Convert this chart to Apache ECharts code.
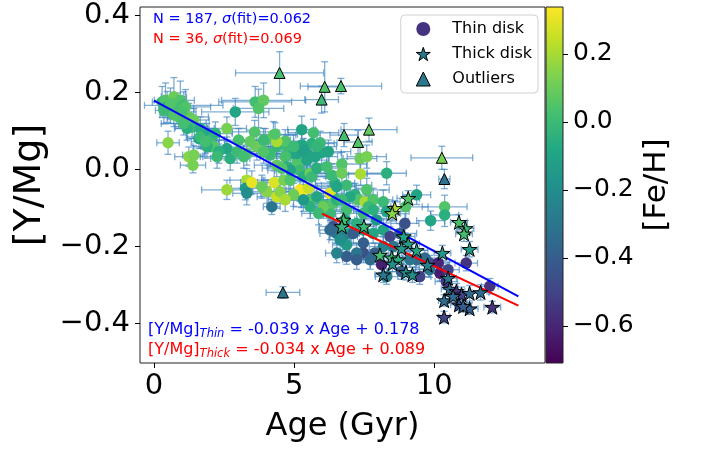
<!DOCTYPE html>
<html><head><meta charset="utf-8">
<script src="https://cdn.jsdelivr.net/npm/echarts@6/dist/echarts.min.js"></script>
<style>html,body{margin:0;padding:0;background:#fff}#c{width:703px;height:450px}</style>
</head><body><div id="c"></div><script>
const xTicks=[0,5,10];
const yTicks=[-0.4,-0.2,0,0.2,0.4];
const cbTicks=[-0.6,-0.4,-0.2,0,0.2];
const xRange=[-0.5,13.95];
const yRange=[-0.502,0.421];
const fehRange=[-0.709,0.338];
const thinFit={slope:-0.039,intercept:0.178,x:[0,13]};
const thickFit={slope:-0.034,intercept:0.089,x:[6,13]};
// rows: [age, Y/Mg, Fe/H, ageErr, Y/MgErr]
const thinDisk=[
[0.29,0.175,0.00,0.35,0.040],[0.41,0.179,0.05,0.40,0.045],[0.71,0.188,0.10,0.45,0.050],[0.94,0.179,0.05,0.50,0.050],
[1.06,0.166,0.00,1.40,0.035],[0.47,0.162,-0.05,0.30,0.040],[0.59,0.149,0.00,0.35,0.030],[0.82,0.158,0.02,0.60,0.040],
[0.88,0.136,0.05,0.40,0.030],[1.12,0.162,0.05,0.90,0.045],[0.35,0.153,0.00,0.30,0.035],[0.71,0.141,0.05,0.50,0.030],
[1.24,0.136,0.08,0.70,0.035],[1.42,0.128,0.10,0.55,0.030],[1.36,0.110,0.00,0.60,0.030],[1.18,0.106,-0.05,0.45,0.030],
[1.06,0.119,0.02,0.80,0.030],[1.65,0.106,-0.05,0.50,0.030],[1.89,0.089,-0.08,0.45,0.030],[1.60,0.080,-0.10,0.40,0.025],
[2.01,0.076,0.00,0.50,0.030],[2.13,0.059,0.05,0.45,0.025],[2.60,0.106,0.12,0.70,0.030],[2.90,0.149,-0.10,1.20,0.035],
[3.61,0.175,0.02,1.30,0.040],[3.91,0.179,0.08,1.50,0.045],[3.73,0.158,0.05,0.90,0.050],[3.59,0.097,0.05,0.80,0.030],
[0.50,0.069,0.15,0.40,0.030],[1.24,0.033,0.15,0.50,0.025],[1.42,0.037,0.12,0.40,0.025],[1.39,0.011,0.12,0.45,0.020],
[2.60,0.054,-0.10,0.60,0.030],[2.72,0.028,-0.05,0.70,0.030],[2.96,0.046,0.00,0.80,0.030],[3.31,0.041,0.05,0.90,0.030],
[3.67,0.059,0.10,0.70,0.035],[3.97,0.076,0.05,0.90,0.030],[4.26,0.089,0.08,0.80,0.035],[4.38,0.059,-0.02,0.90,0.030],
[4.74,0.059,0.00,1.00,0.030],[4.68,0.073,0.05,0.70,0.030],[5.27,0.103,-0.10,0.50,0.035],[5.69,0.095,0.02,0.90,0.035],
[5.63,0.067,-0.05,0.80,0.030],[5.98,0.043,-0.08,0.70,0.030],[5.93,0.069,0.00,0.60,0.030],[5.27,0.063,-0.08,0.80,0.030],
[4.98,0.041,-0.05,1.00,0.030],[4.68,0.033,0.03,0.90,0.030],[4.15,0.037,0.02,0.80,0.030],[5.10,0.016,0.05,0.70,0.030],
[5.45,0.024,-0.10,0.80,0.030],[5.21,-0.002,0.00,0.90,0.030],[4.38,0.011,0.08,0.80,0.030],[4.74,0.007,-0.05,0.70,0.030],
[5.45,0.041,-0.10,0.90,0.030],[5.33,-0.019,-0.05,0.80,0.030],[5.57,-0.010,0.10,0.70,0.030],[4.38,0.072,0.20,0.60,0.030],
[3.91,0.076,0.00,0.90,0.030],[4.32,0.091,0.05,0.80,0.030],[4.09,0.041,0.00,0.70,0.030],[5.10,0.041,-0.10,0.80,0.030],
[6.70,0.014,0.05,0.90,0.030],[7.35,0.028,0.10,0.60,0.030],[7.59,0.033,0.12,0.70,0.030],[7.37,-0.012,0.20,0.80,0.030],
[8.30,-0.010,-0.05,0.70,0.030],[3.31,-0.028,0.20,0.60,0.030],[3.26,-0.049,-0.15,0.50,0.030],[3.49,-0.034,0.30,0.40,0.030],
[2.60,-0.053,0.18,0.90,0.025],[4.29,-0.034,0.28,0.60,0.030],[4.38,-0.071,0.25,0.70,0.030],[4.64,-0.028,0.12,0.80,0.030],
[4.50,-0.058,0.15,0.60,0.030],[4.20,-0.097,-0.30,0.30,0.020],[5.21,-0.053,0.32,0.50,0.030],[5.27,-0.069,0.33,0.60,0.030],
[5.51,-0.049,0.25,0.70,0.030],[5.63,-0.079,0.05,0.80,0.030],[5.81,-0.071,-0.10,0.70,0.030],[6.28,-0.062,0.28,0.50,0.030],
[6.04,-0.092,0.00,0.80,0.030],[6.46,-0.036,-0.05,0.70,0.030],[6.87,-0.041,0.00,0.90,0.030],[6.34,-0.015,0.00,0.60,0.030],
[4.86,-0.028,0.05,0.90,0.030],[5.63,-0.019,0.00,0.70,0.030],[4.98,-0.066,0.10,0.60,0.030],[4.03,-0.058,0.15,0.50,0.030],
[7.17,-0.066,-0.05,0.80,0.030],[7.29,-0.079,0.05,0.90,0.030],[7.53,-0.084,0.20,0.60,0.030],[7.82,-0.079,0.05,0.70,0.030],
[7.65,-0.097,0.00,0.80,0.030],[7.82,-0.105,-0.05,0.70,0.030],[8.18,-0.084,0.00,0.60,0.030],[8.30,-0.109,-0.10,0.80,0.030],
[6.28,-0.114,0.00,0.70,0.030],[6.87,-0.105,0.02,0.80,0.030],[7.47,-0.114,0.00,0.70,0.030],[7.23,-0.140,-0.05,0.60,0.030],
[6.99,-0.166,-0.10,0.70,0.030],[7.47,-0.157,-0.15,0.60,0.030],[7.94,-0.131,-0.15,0.70,0.030],[8.18,-0.157,-0.10,0.60,0.030],
[9.37,-0.066,-0.10,0.50,0.025],[8.98,-0.097,0.05,0.80,0.030],[9.87,-0.133,-0.10,0.50,0.025],[10.37,-0.097,0.05,0.80,0.030],
[10.37,-0.118,-0.05,0.50,0.030],[6.04,-0.097,0.10,0.60,0.030],[6.40,-0.088,0.05,0.70,0.030],[6.52,-0.079,-0.05,0.80,0.030],
[6.70,-0.010,0.10,0.90,0.030],[6.40,-0.148,-0.45,0.50,0.025],[6.52,-0.166,-0.30,0.60,0.025],[6.76,-0.174,-0.25,0.50,0.025],
[7.11,-0.166,-0.40,0.60,0.025],[6.87,-0.196,-0.15,0.50,0.025],[6.87,-0.226,-0.40,0.40,0.020],[7.47,-0.191,-0.40,0.60,0.025],
[7.47,-0.217,-0.45,0.50,0.025],[7.88,-0.217,-0.40,0.50,0.025],[8.12,-0.247,-0.62,0.40,0.020],[8.42,-0.174,-0.50,0.50,0.025],
[8.77,-0.166,-0.40,0.60,0.025],[8.95,-0.140,-0.45,0.50,0.025],[8.83,-0.265,-0.40,0.50,0.020],[9.48,-0.278,-0.50,0.40,0.020],
[9.37,-0.234,-0.35,0.50,0.020],[9.83,-0.243,-0.45,0.50,0.020],[10.14,-0.243,-0.60,0.40,0.020],[10.20,-0.269,-0.62,0.40,0.020],
[10.43,-0.291,-0.55,0.40,0.020],[11.14,-0.243,-0.55,0.40,0.020],[11.98,-0.303,-0.55,0.30,0.020],[9.66,-0.230,-0.35,0.50,0.020],
[7.71,-0.234,-0.35,0.50,0.025],[7.23,-0.217,-0.30,0.50,0.025],[6.64,-0.183,-0.20,0.40,0.025],[8.18,-0.200,-0.25,0.50,0.025],
[9.13,-0.234,-0.30,0.50,0.020],[8.30,-0.278,-0.25,0.40,0.020],[6.28,-0.157,-0.35,0.40,0.025],[7.82,-0.166,-0.10,0.50,0.025],
[8.54,-0.200,-0.30,0.50,0.025],[10.49,-0.260,-0.50,0.40,0.020],[9.83,-0.260,-0.30,0.50,0.020],[6.52,-0.217,-0.25,0.40,0.025],
[7.23,-0.234,-0.40,0.50,0.025],[6.81,-0.131,-0.10,0.60,0.025],[4.86,-0.002,-0.10,0.80,0.030],[4.56,0.003,0.05,0.70,0.030],
[5.81,0.003,-0.05,0.80,0.030],[6.16,0.007,0.02,0.70,0.030],[5.75,0.033,-0.10,0.80,0.030],[5.33,0.050,-0.12,0.70,0.030],
[4.98,0.059,0.00,0.90,0.030],[3.91,0.046,0.05,0.70,0.030],[3.20,0.033,0.02,0.80,0.030],[2.31,0.046,-0.05,0.50,0.030],
[2.25,0.033,0.00,0.60,0.030],[1.89,0.059,-0.05,0.50,0.030],[1.65,0.084,0.00,0.50,0.030],[6.52,-0.045,-0.10,0.70,0.030],
[6.99,-0.071,-0.08,0.80,0.030],[5.57,-0.097,-0.05,0.60,0.030],[5.87,-0.114,0.00,0.60,0.030],[5.33,-0.079,-0.15,0.50,0.030],
[3.85,-0.045,0.10,0.60,0.030],[4.68,-0.079,0.20,0.60,0.030],[3.31,-0.062,-0.20,0.50,0.030],[0.59,0.171,0.05,0.40,0.040],
[1.00,0.149,0.03,0.50,0.035],[1.83,0.072,0.02,0.50,0.030],[5.81,0.059,-0.02,0.70,0.030],[6.22,0.046,-0.10,0.80,0.030],
[3.43,0.072,0.08,0.90,0.030],[3.02,0.076,0.03,0.80,0.030],[2.19,0.093,-0.03,0.60,0.030],[7.59,-0.053,0.05,0.80,0.030],
[6.70,-0.079,0.00,0.70,0.030]
];
const thickDisk=[
[9.07,-0.075,0.05,0.40,0.020],[8.59,-0.101,0.20,0.30,0.020],[8.50,-0.114,0.15,0.30,0.020],[6.76,-0.131,0.03,0.40,0.020],
[6.70,-0.148,-0.02,0.40,0.020],[7.49,-0.148,0.00,0.40,0.020],[10.88,-0.137,0.03,0.30,0.020],[11.11,-0.153,0.00,0.30,0.020],
[11.06,-0.167,0.02,0.30,0.020],[11.26,-0.207,-0.15,0.30,0.020],[8.91,-0.174,-0.10,0.40,0.020],[9.07,-0.193,-0.12,0.40,0.020],
[9.37,-0.210,-0.10,0.40,0.020],[10.29,-0.217,-0.15,0.30,0.020],[8.06,-0.222,0.02,0.40,0.020],[8.48,-0.229,0.00,0.40,0.020],
[8.71,-0.234,-0.05,0.40,0.020],[8.51,-0.245,-0.20,0.40,0.020],[8.18,-0.273,-0.30,0.30,0.020],[8.99,-0.267,-0.20,0.30,0.020],
[9.22,-0.273,-0.20,0.30,0.020],[9.76,-0.248,-0.25,0.30,0.020],[10.49,-0.282,-0.30,0.30,0.020],[10.55,-0.310,-0.35,0.30,0.020],
[10.79,-0.316,-0.55,0.30,0.020],[10.97,-0.325,-0.50,0.30,0.020],[11.26,-0.321,-0.35,0.30,0.020],[11.65,-0.319,-0.35,0.30,0.020],
[10.35,-0.340,-0.35,0.20,0.015],[10.88,-0.351,-0.45,0.30,0.015],[11.26,-0.361,-0.40,0.30,0.015],[12.07,-0.357,-0.55,0.30,0.015],
[10.35,-0.383,-0.50,0.20,0.015],[11.03,-0.355,-0.40,0.30,0.015],[10.67,-0.329,-0.35,0.30,0.015],[8.83,-0.205,-0.15,0.40,0.020]
];
const outliers=[
[4.48,0.250,0.03,1.57,0.055],[6.09,0.214,0.05,0.60,0.065],[6.67,0.216,0.03,1.45,0.020],[5.98,0.181,0.00,0.60,0.035],
[6.78,0.089,0.02,0.50,0.030],[7.67,0.103,0.08,1.00,0.030],[7.28,0.071,0.05,0.50,0.030],[10.27,0.030,0.12,1.10,0.030],
[10.36,-0.025,-0.32,0.20,0.025],[4.60,-0.319,-0.30,0.60,0.015]
];
const viridis=['#440154','#482475','#414487','#355f8d','#2a788e','#21918c','#22a884','#44bf70','#7ad151','#bddf26','#fde725'];
const FONT='DejaVu Sans';
const STAR='path://M100,0L122.45,69.1L195.11,69.1L136.33,111.8L158.78,180.9L100,138.2L41.22,180.9L63.67,111.8L4.89,69.1L77.55,69.1Z';
const minus=v=>{const s=(Math.abs(v)<1e-9?0:v).toFixed(1);return s.replace('-','\u2212');};

function errRender(params, api){
  const x=api.value(0), y=api.value(1), ex=api.value(3), ey=api.value(4);
  const c=api.coord([x,y]);
  const l=api.coord([x-ex,y])[0], r=api.coord([x+ex,y])[0];
  const t=api.coord([x,y+ey])[1], b=api.coord([x,y-ey])[1];
  const cap=3.5;
  const st={stroke:'rgba(60,130,190,0.65)',lineWidth:1.3};
  return {type:'group',children:[
    {type:'line',shape:{x1:l,y1:c[1],x2:r,y2:c[1]},style:st},
    {type:'line',shape:{x1:l,y1:c[1]-cap,x2:l,y2:c[1]+cap},style:st},
    {type:'line',shape:{x1:r,y1:c[1]-cap,x2:r,y2:c[1]+cap},style:st},
    {type:'line',shape:{x1:c[0],y1:t,x2:c[0],y2:b},style:st},
    {type:'line',shape:{x1:c[0]-cap,y1:t,x2:c[0]+cap,y2:t},style:st},
    {type:'line',shape:{x1:c[0]-cap,y1:b,x2:c[0]+cap,y2:b},style:st}
  ]};
}
const fitLine=f=>f.x.map(x=>[x,f.slope*x+f.intercept]);
const allErr=thinDisk.concat(thickDisk,outliers);

const chart=echarts.init(document.getElementById('c'),null,{renderer:'canvas'});
chart.setOption({
  animation:false,
  textStyle:{fontFamily:FONT},
  grid:[
    {left:140,top:7,width:405,height:356,show:true,borderColor:'#222',borderWidth:1,backgroundColor:'transparent'},
    {left:546,top:7,width:17,height:356,show:true,borderColor:'#222',borderWidth:1,
     backgroundColor:new echarts.graphic.LinearGradient(0,1,0,0,viridis.map((c,i)=>({offset:i/10,color:c})))}
  ],
  xAxis:[
    {gridIndex:0,type:'value',min:xRange[0],max:xRange[1],position:'bottom',
     axisLine:{show:false,onZero:false},splitLine:{show:false},
     axisTick:{show:true,inside:false,length:5,customValues:xTicks,lineStyle:{color:'#000'}},
     axisLabel:{customValues:xTicks,fontSize:29,color:'#000',margin:9,fontFamily:FONT,formatter:v=>String(v)},
     name:'Age (Gyr)',nameLocation:'middle',nameGap:48,nameTextStyle:{fontSize:32,color:'#000',fontFamily:FONT}},
    {gridIndex:1,type:'value',min:0,max:1,show:false}
  ],
  yAxis:[
    {gridIndex:0,type:'value',min:yRange[0],max:yRange[1],position:'left',
     axisLine:{show:false,onZero:false},splitLine:{show:false},
     axisTick:{show:true,inside:false,length:5,customValues:yTicks,lineStyle:{color:'#000'}},
     axisLabel:{customValues:yTicks,fontSize:29,color:'#000',margin:10,fontFamily:FONT,formatter:minus},
     name:'[Y/Mg]',nameLocation:'middle',nameGap:91,nameRotate:90,nameTextStyle:{fontSize:38,color:'#000',fontFamily:FONT}},
    {gridIndex:1,type:'value',min:fehRange[0],max:fehRange[1],position:'right',
     axisLine:{show:false,onZero:false},splitLine:{show:false},
     axisTick:{show:true,inside:false,length:5,customValues:cbTicks,lineStyle:{color:'#000'}},
     axisLabel:{customValues:cbTicks,fontSize:25,color:'#000',margin:10,fontFamily:FONT,formatter:minus},
     name:'[Fe/H]',nameLocation:'middle',nameGap:78,nameRotate:90,nameTextStyle:{fontSize:31,color:'#000',fontFamily:FONT}}
  ],
  visualMap:{type:'continuous',show:false,min:fehRange[0],max:fehRange[1],dimension:2,seriesIndex:[1,3,4],inRange:{color:viridis}},
  legend:{right:165,top:15,orient:'vertical',itemWidth:14,itemHeight:14,itemGap:9,
    padding:[6,6,6,15],borderColor:'#d0d0d0',borderWidth:1,borderRadius:4,backgroundColor:'rgba(255,255,255,0.8)',
    textStyle:{fontSize:16,color:'#000',fontFamily:FONT,padding:[0,0,0,17]},
    data:[
      {name:'Thin disk',icon:'circle',itemStyle:{color:'#46337f',borderWidth:0}},
      {name:'Thick disk',icon:STAR,itemStyle:{color:'#2a788e',borderColor:'#000',borderWidth:1}},
      {name:'Outliers',icon:'triangle',itemStyle:{color:'#2a788e',borderColor:'#000',borderWidth:1}}
    ]},
  series:[
    {type:'custom',name:'err',xAxisIndex:0,yAxisIndex:0,renderItem:errRender,data:allErr,clip:true,z:1,silent:true},
    {type:'scatter',name:'Thin disk',data:thinDisk,symbol:'circle',symbolSize:11.5,itemStyle:{opacity:1},z:2},
    {type:'line',name:'thinfit',data:fitLine(thinFit),symbol:'none',lineStyle:{color:'#0000ff',width:2},z:3,silent:true},
    {type:'scatter',name:'Thick disk',data:thickDisk,symbol:STAR,symbolKeepAspect:true,symbolSize:15,itemStyle:{borderColor:'#000',borderWidth:1,opacity:1},z:4},
    {type:'scatter',name:'Outliers',data:outliers,symbol:'triangle',symbolSize:11,itemStyle:{borderColor:'#000',borderWidth:1,opacity:1},z:5},
    {type:'line',name:'thickfit',data:fitLine(thickFit),symbol:'none',lineStyle:{color:'#ff0000',width:2},z:3,silent:true}
  ],
  graphic:[
    {type:'text',left:153,top:12,z:10,style:{text:'{a|N = 187, }{i|σ}{a|(fit)=0.062}',rich:{a:{fontSize:14.5,fill:'#0000ff',fontFamily:FONT},i:{fontSize:14.5,fill:'#0000ff',fontStyle:'italic',fontFamily:FONT}}}},
    {type:'text',left:153,top:32,z:10,style:{text:'{a|N = 36, }{i|σ}{a|(fit)=0.069}',rich:{a:{fontSize:14.5,fill:'#ff0000',fontFamily:FONT},i:{fontSize:14.5,fill:'#ff0000',fontStyle:'italic',fontFamily:FONT}}}},
    {type:'text',left:148,top:322,z:10,style:{text:'{a|[Y/Mg]}{s|Thin}{a| = -0.039 x Age + 0.178}',rich:{a:{fontSize:16,fill:'#0000ff',fontFamily:FONT},s:{fontSize:11.5,fill:'#0000ff',fontStyle:'italic',fontFamily:FONT,verticalAlign:'bottom',padding:[8,0,0,0]}}}},
    {type:'text',left:148,top:342,z:10,style:{text:'{a|[Y/Mg]}{s|Thick}{a| = -0.034 x Age + 0.089}',rich:{a:{fontSize:16,fill:'#ff0000',fontFamily:FONT},s:{fontSize:11.5,fill:'#ff0000',fontStyle:'italic',fontFamily:FONT,verticalAlign:'bottom',padding:[8,0,0,0]}}}}
  ]
});
</script></body></html>
